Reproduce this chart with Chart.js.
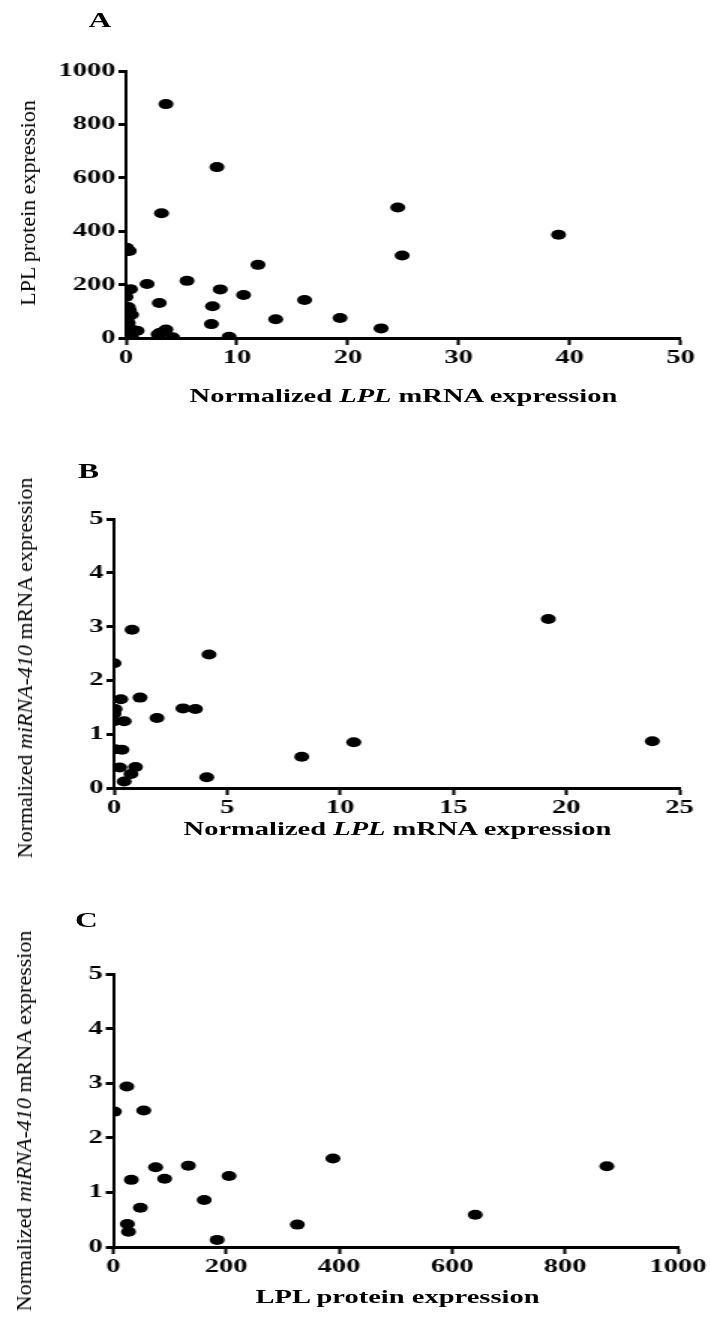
<!DOCTYPE html>
<html lang="en">
<head>
  <meta charset="UTF-8" />
  <title>LPL and miRNA-410 expression</title>
  <script src="https://cdn.jsdelivr.net/npm/chart.js"></script>
  <style>
    body {
      margin: 0;
      background: #fff;
      font-family: "Liberation Serif", "Times New Roman", serif;
      color: #000;
    }

    #page {
      position: relative;
      width: 710px;
      height: 1320px;
      overflow: hidden;
    }

    /* the original figure is stretched horizontally */
    .panel {
      position: absolute;
      left: 0;
      width: 473px;
      transform: scaleX(1.5);
      transform-origin: 0 0;
    }

    .panel canvas {
      position: absolute;
      left: 0;
      top: 0;
    }

    .letter {
      position: absolute;
      font-weight: bold;
      font-size: 21px;
      line-height: 21px;
    }

    .xtitle {
      position: absolute;
      font-weight: bold;
      font-size: 19px;
      line-height: 20px;
      white-space: nowrap;
      transform: translateX(-50%);
    }

    .ytitle {
      position: absolute;
      font-size: 22px;
      line-height: 22px;
      white-space: nowrap;
      transform: translate(-50%, -50%) rotate(-90deg);
    }
  </style>
</head>
<body>
  <div id="page">
    <div class="panel" style="top:0;height:420px">
      <canvas id="chartA" width="473" height="420"></canvas>
      <div class="letter" style="left:59px;top:10px">A</div>
      <div class="xtitle" style="left:269px;top:386px">Normalized <i>LPL</i> mRNA expression</div>
    </div>
    <div class="ytitle" style="left:28px;top:203px">LPL protein expression</div>

    <div class="panel" style="top:420px;height:440px">
      <canvas id="chartB" width="473" height="440"></canvas>
      <div class="letter" style="left:52px;top:41px">B</div>
      <div class="xtitle" style="left:265px;top:399px">Normalized <i>LPL</i> mRNA expression</div>
    </div>
    <div class="ytitle" style="left:25px;top:668px">Normalized <i>miRNA-410</i> mRNA expression</div>

    <div class="panel" style="top:860px;height:460px">
      <canvas id="chartC" width="473" height="460"></canvas>
      <div class="letter" style="left:50px;top:50px">C</div>
      <div class="xtitle" style="left:265px;top:427px">LPL protein expression</div>
    </div>
    <div class="ytitle" style="left:24px;top:1121px">Normalized <i>miRNA-410</i> mRNA expression</div>
  </div>

  <script>
    // A: LPL mRNA vs LPL protein
    const mrnaA = [3.6, 8.2, 3.2, 24.5, 39.0, 24.9, 0.05, 0.3, 11.9, 1.9, 5.5, 0.4, 8.5, 10.6, 16.1, 3.0, 7.8,
      0.0, 0.2, 0.3, 13.5, 19.3, 7.7, 23.0, 0.5, 0.1, 0.2, 0.0, 0.6, 1.0, 0.2, 0.5, 2.9, 3.6, 4.2, 9.3, 3.1];
    const proteinA = [876, 640, 467, 489, 387, 309, 338, 326, 274, 202, 214, 183, 182, 161, 142, 131, 119,
      154, 116, 104, 70, 75, 52, 36, 87, 72, 56, 38, 30, 27, 12, 5, 14, 32, 3, 5, 20];

    // B: LPL mRNA vs miRNA-410
    const mrnaB = [19.2, 23.8, 10.6, 8.3, 4.2, 4.1, 0.8, 0.0, 1.15, 0.3, 3.05, 3.6, 1.9, 0.05, 0.0, 0.0,
      0.45, 0.05, 0.35, 0.25, 0.95, 0.75, 0.45];
    const mirB = [3.14, 0.87, 0.85, 0.58, 2.48, 0.2, 2.94, 2.32, 1.68, 1.65, 1.48, 1.47, 1.3, 1.47, 1.38, 1.24,
      1.24, 0.72, 0.71, 0.38, 0.39, 0.26, 0.12];

    // C: LPL protein vs miRNA-410
    const proteinC = [24, 2, 54, 75, 133, 91, 32, 205, 389, 874, 161, 48, 641, 25, 27, 326, 184];
    const mirC = [2.94, 2.48, 2.5, 1.46, 1.49, 1.25, 1.23, 1.3, 1.62, 1.48, 0.86, 0.72, 0.59, 0.42, 0.28, 0.41, 0.13];

    const xTicksA = { max: 50, step: 10 };
    const xTicksB = { max: 25, step: 5 };
    const xTicksC = { max: 1000, step: 200 };
    const yTicksA = { max: 1000, step: 200 };
    const yTicksBC = { max: 5, step: 1 };

    const tickFont = { family: "'Liberation Serif', 'Times New Roman', serif", size: 19, weight: "bold" };

    function makeChart(id, xs, ys, xt, yt, box) {
      const points = xs.map((x, i) => ({ x: x, y: ys[i] }));

      return new Chart(document.getElementById(id), {
        type: "scatter",
        data: {
          datasets: [{
            data: points,
            backgroundColor: "#000",
            borderColor: "#000",
            borderWidth: 0,
            pointRadius: 5,
            pointHoverRadius: 5
          }]
        },
        options: {
          responsive: false,
          animation: false,
          events: [],
          layout: { padding: { top: box.top, right: box.right, bottom: 0, left: 0 } },
          plugins: {
            legend: { display: false },
            tooltip: { enabled: false }
          },
          scales: {
            x: {
              type: "linear",
              min: 0,
              max: xt.max,
              ticks: {
                stepSize: xt.step, color: "#000", font: tickFont, padding: 2, maxRotation: 0,
                format: { useGrouping: false }
              },
              grid: { drawOnChartArea: false, drawTicks: true, tickLength: 7, tickWidth: 2, tickColor: "#000" },
              border: { display: true, color: "#000", width: 3 },
              afterFit: (s) => { s.height = box.xAxisH; }
            },
            y: {
              type: "linear",
              min: 0,
              max: yt.max,
              ticks: {
                stepSize: yt.step, color: "#000", font: tickFont, padding: 2,
                format: { useGrouping: false }
              },
              grid: { drawOnChartArea: false, drawTicks: true, tickLength: 5, tickWidth: 3, tickColor: "#000" },
              border: { display: true, color: "#000", width: 2 },
              afterFit: (s) => { s.width = box.yAxisW; }
            }
          }
        }
      });
    }

    makeChart("chartA", mrnaA, proteinA, xTicksA, yTicksA, { top: 71, right: 19.3, xAxisH: 82, yAxisW: 84 });
    makeChart("chartB", mrnaB, mirB, xTicksB, yTicksBC, { top: 99, right: 20, xAxisH: 72, yAxisW: 76 });
    makeChart("chartC", proteinC, mirC, xTicksC, yTicksBC, { top: 114, right: 20, xAxisH: 73, yAxisW: 75.5 });
  </script>
</body>
</html>
